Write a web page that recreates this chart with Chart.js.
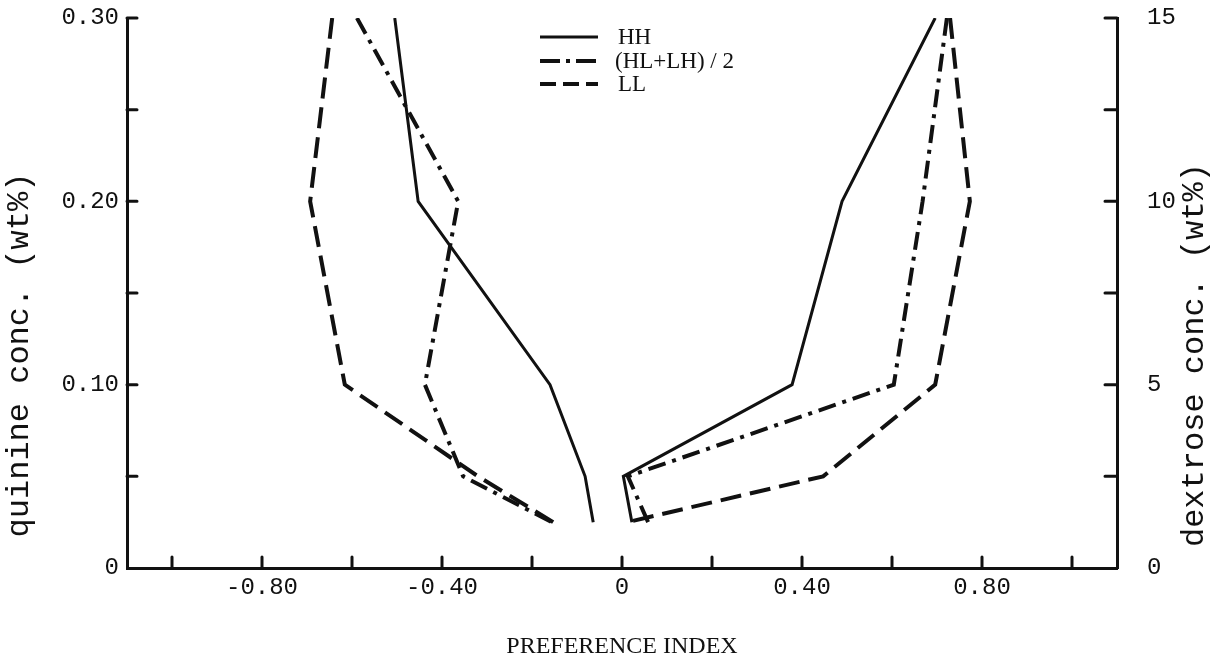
<!DOCTYPE html>
<html>
<head>
<meta charset="utf-8">
<script src="https://cdn.jsdelivr.net/npm/chart.js@4.4.0/dist/chart.umd.min.js"></script>
<style>
  html, body { margin: 0; padding: 0; background: #fff; }
  #wrap { width: 1214px; height: 659px; }
</style>
</head>
<body>
<div id="wrap"><canvas id="myChart" width="1214" height="659"></canvas></div>
<script>
// concentrations (y values): quinine on the left branch, dextrose on the right
const quinine = [0.30, 0.20, 0.10, 0.05, 0.025];
const dextrose = [15, 10, 5, 2.5, 1.25];

// preference index
const hhQuinine = [-0.505, -0.453, -0.16, -0.082, -0.064];
const hlQuinine = [-0.589, -0.364, -0.438, -0.353, -0.156];
const llQuinine = [-0.644, -0.693, -0.616, -0.32, -0.153];
const hhDextrose = [0.696, 0.489, 0.378, 0.003, 0.022];
const hlDextrose = [0.722, 0.668, 0.604, 0.013, 0.058];
const llDextrose = [0.729, 0.773, 0.696, 0.447, 0.012];

// tick labels and tick marks
const xLabelTicks = [-0.8, -0.4, 0, 0.4, 0.8];
const xMarks = [-1.0, -0.8, -0.6, -0.4, -0.2, 0, 0.2, 0.4, 0.6, 0.8, 1.0];
const yLabelTicks = [0, 0.10, 0.20, 0.30];
const yMarks = [0.05, 0.10, 0.15, 0.20, 0.25, 0.30];
const y2LabelTicks = [0, 5, 10, 15];
const y2Marks = [2.5, 5, 7.5, 10, 12.5, 15];

const seriesNames = ['HH', '(HL+LH) / 2', 'LL'];
const dashes = [[], [18, 7, 4, 7], [21, 9]];
const ink = '#111';

function pts(xs, ys) {
    return xs.map((x, i) => ({ x: x, y: ys[i] }));
}

function line(label, data, axis, dash, width) {
    return {
        label: label,
        data: data,
        yAxisID: axis,
        borderColor: ink,
        borderWidth: width,
        borderDash: dash,
        pointRadius: 0,
        tension: 0,
        fill: false,
    };
}

const data = {
    datasets: [
        line(seriesNames[0], pts(hhQuinine, quinine), 'y', dashes[0], 3),
        line(seriesNames[0], pts(hhDextrose, dextrose), 'y2', dashes[0], 3),
        line(seriesNames[1], pts(hlQuinine, quinine), 'y', dashes[1], 4),
        line(seriesNames[1], pts(hlDextrose, dextrose), 'y2', dashes[1], 4),
        line(seriesNames[2], pts(llQuinine, quinine), 'y', dashes[2], 4),
        line(seriesNames[2], pts(llDextrose, dextrose), 'y2', dashes[2], 4),
    ]
};

const monoFont = { family: 'Liberation Mono', size: 24 };

// inward tick marks, legend and the side titles
const extras = {
    id: 'extras',
    afterDraw(chart) {
        const c = chart.ctx;
        const x = chart.scales.x, y = chart.scales.y, y2 = chart.scales.y2;
        const area = chart.chartArea;
        c.save();
        c.strokeStyle = ink;
        c.lineWidth = 3;
        c.lineCap = 'round';
        c.beginPath();
        xMarks.forEach(v => {
            const px = x.getPixelForValue(v);
            c.moveTo(px, area.bottom);
            c.lineTo(px, area.bottom - 11);
        });
        yMarks.forEach(v => {
            const py = y.getPixelForValue(v);
            c.moveTo(area.left, py);
            c.lineTo(area.left + 10, py);
        });
        y2Marks.forEach(v => {
            const py = y2.getPixelForValue(v);
            c.moveTo(area.right, py);
            c.lineTo(area.right - 12, py);
        });
        c.stroke();

        // legend
        const legY = [37, 61, 84];
        seriesNames.forEach((name, i) => {
            c.beginPath();
            c.lineCap = 'butt';
            c.lineWidth = i === 0 ? 3 : 4;
            c.setLineDash(i === 1 ? [20, 6, 4, 6] : i === 2 ? [16, 7] : []);
            c.moveTo(540, legY[i]);
            c.lineTo(598, legY[i]);
            c.stroke();
            c.setLineDash([]);
            c.fillStyle = ink;
            c.font = '23px "Liberation Serif"';
            c.textBaseline = 'middle';
            c.textAlign = 'left';
            c.fillText(name, i === 1 ? 615 : 618, legY[i] + 1);
        });

        // axis titles, both read bottom to top
        c.font = '32px "Liberation Mono"';
        c.textAlign = 'center';
        c.textBaseline = 'middle';
        c.save();
        c.translate(20, 355);
        c.rotate(-Math.PI / 2);
        c.fillText('quinine conc. (wt%)', 0, 0);
        c.restore();
        c.save();
        c.translate(1195, 355);
        c.rotate(-Math.PI / 2);
        c.fillText('dextrose conc. (wt%)', 0, 0);
        c.restore();
        c.restore();
    }
};

function noVertPadding(scale) {
    scale.paddingTop = 0;
    scale.paddingBottom = 0;
}

const config = {
    type: 'line',
    data: data,
    options: {
        responsive: false,
        animation: false,
        layout: { padding: { top: 18, left: 0, right: 0, bottom: 0 } },
        plugins: {
            legend: { display: false },
            tooltip: { enabled: false },
        },
        scales: {
            x: {
                type: 'linear',
                min: -1.1,
                max: 1.1,
                afterBuildTicks: (scale) => {
                    scale.ticks = xLabelTicks.map(v => ({ value: v }));
                },
                afterFit: (scale) => { scale.height = 91; },
                grid: { display: true, drawOnChartArea: false, drawTicks: false },
                border: { display: true, color: ink, width: 3 },
                ticks: {
                    color: ink,
                    font: monoFont,
                    padding: 5,
                    maxRotation: 0,
                    autoSkip: false,
                    callback: (value) => value === 0 ? '0' : value.toFixed(2),
                },
                title: {
                    display: true,
                    text: 'PREFERENCE INDEX',
                    color: ink,
                    font: { family: 'Liberation Serif', size: 24, lineHeight: 1.0 },
                    padding: { top: 0, bottom: 0 },
                },
            },
            y: {
                type: 'linear',
                position: 'left',
                min: 0,
                max: 0.30,
                afterBuildTicks: (scale) => {
                    scale.ticks = yLabelTicks.map(v => ({ value: v }));
                },
                afterFit: (scale) => { scale.width = 127; noVertPadding(scale); },
                grid: { display: true, drawOnChartArea: false, drawTicks: false },
                border: { display: true, color: ink, width: 3 },
                ticks: {
                    color: ink,
                    font: monoFont,
                    padding: 8,
                    callback: (value) => value === 0 ? '0' : value.toFixed(2),
                },
            },
            y2: {
                type: 'linear',
                position: 'right',
                min: 0,
                max: 15,
                afterBuildTicks: (scale) => {
                    scale.ticks = y2LabelTicks.map(v => ({ value: v }));
                },
                afterFit: (scale) => { scale.width = 97; noVertPadding(scale); },
                grid: { display: true, drawOnChartArea: false, drawTicks: false },
                border: { display: true, color: ink, width: 3 },
                ticks: {
                    color: ink,
                    font: monoFont,
                    padding: 30,
                    callback: (value) => String(value),
                },
            },
        },
    },
    plugins: [extras],
};

const myChart = new Chart(document.getElementById('myChart').getContext('2d'), config);
</script>
</body>
</html>
